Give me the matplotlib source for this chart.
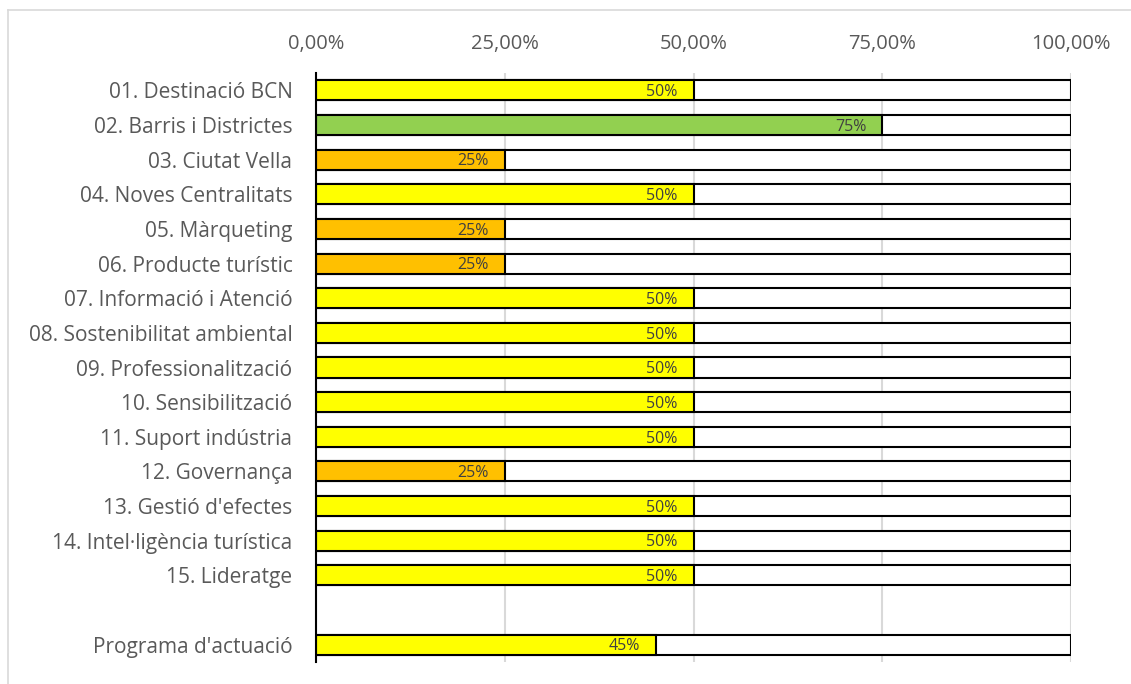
import matplotlib
matplotlib.use("Agg")
import matplotlib.pyplot as plt
from matplotlib.lines import Line2D
from matplotlib.ticker import FuncFormatter

categories = ["01. Destinació BCN", "02. Barris i Districtes", "03. Ciutat Vella",
              "04. Noves Centralitats", "05. Màrqueting", "06. Producte turístic",
              "07. Informació i Atenció", "08. Sostenibilitat ambiental",
              "09. Professionalització", "10. Sensibilització", "11. Suport indústria",
              "12. Governança", "13. Gestió d'efectes", "14. Intel·ligència turística",
              "15. Lideratge", "", "Programa d'actuació"]
values = [0.50, 0.75, 0.25, 0.50, 0.25, 0.25, 0.50, 0.50, 0.50, 0.50, 0.50, 0.25,
          0.50, 0.50, 0.50, None, 0.45]
labels = ["50%", "75%", "25%", "50%", "25%", "25%", "50%", "50%", "50%", "50%", "50%",
          "25%", "50%", "50%", "50%", "", "45%"]
xticks = [0, 0.25, 0.5, 0.75, 1.0]

def color_for(v):
    if v >= 0.75:
        return "#92D050"
    if v <= 0.25:
        return "#FFC000"
    return "#FFFF00"

plt.rcParams['font.family'] = ['Open Sans', 'DejaVu Sans']

fig = plt.figure(figsize=(11.31, 6.84), dpi=100)
ax = fig.add_axes([316/1131, 1-662/684, (1071-316)/1131, (662-73)/684])

n = len(categories)
ypos = list(range(n))
bh = 0.58
for y, v, lab in zip(ypos, values, labels):
    if v is None:
        continue
    ax.barh(y, 1.0, height=bh, color="white", edgecolor="black", linewidth=1.5, zorder=2)
    ax.barh(y, v, height=bh, color=color_for(v), edgecolor="black", linewidth=1.5, zorder=3)
    ax.text(v - 0.021, y + 0.05, lab, ha="right", va="center", fontsize=11.5,
            color="#404040", zorder=4)

ax.set_xlim(0, 1.0)
ax.set_ylim(n - 0.5, -0.5)
ax.set_yticks(ypos)
ax.set_yticklabels(categories)
ax.set_xticks(xticks)
ax.xaxis.set_major_formatter(FuncFormatter(lambda x, p: f"{x*100:.2f}".replace(".", ",") + "%"))
ax.xaxis.tick_top()
ax.tick_params(axis="x", length=0, pad=14, labelsize=14.5, labelcolor="#595959")
ax.tick_params(axis="y", length=0, pad=17, labelsize=15, labelcolor="#595959")
ax.grid(axis="x", color="#d9d9d9", linewidth=1.5, zorder=0)
ax.set_axisbelow(True)
for s in ["top", "right", "bottom"]:
    ax.spines[s].set_visible(False)
ax.spines["left"].set_color("black")
ax.spines["left"].set_linewidth(1.5)
ax.spines["left"].set_zorder(5)

fig.add_artist(Line2D([8/1131, 1.0], [1-10/684, 1-10/684], color="#d9d9d9", linewidth=1.2))
fig.add_artist(Line2D([8/1131, 8/1131], [0, 1-10/684], color="#d9d9d9", linewidth=1.2))

fig.savefig("out.png", dpi=100)
